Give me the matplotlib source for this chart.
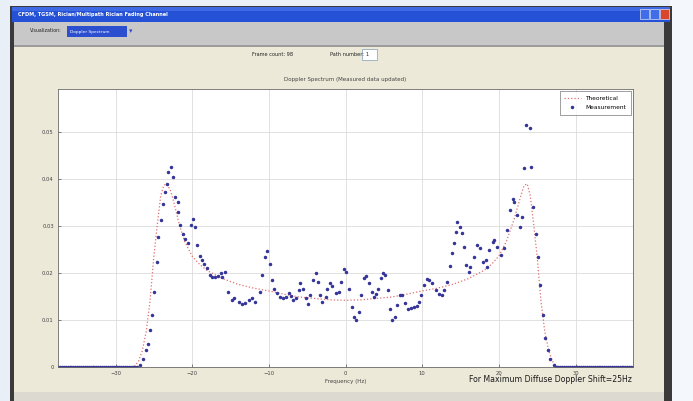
import numpy as np
import matplotlib
matplotlib.use("Agg")
import matplotlib.pyplot as plt
from matplotlib.patches import Rectangle

# Theoretical Doppler spectrum
theo_freq = [-37.5, -28.0, -27.5, -27.0, -26.5, -26.0, -25.5, -25.0, -24.5, -24.1,
             -23.7, -23.3, -22.8, -22.3, -21.7, -21.0, -20.0, -19.0, -18.0, -16.0,
             -14.0, -12.0, -10.0, -8.0, -6.0, -4.0, -2.0, 0.0, 2.0, 4.0,
             6.0, 8.0, 10.0, 12.0, 14.0, 16.0, 18.0, 19.0, 20.0, 21.0,
             22.0, 22.7, 23.3, 23.7, 24.1, 24.5, 25.0, 25.5, 26.0, 26.5,
             27.0, 27.5, 28.0, 37.5]
theo_spec = [0.0, 0.0, 0.0002, 0.0012, 0.0035, 0.0075, 0.014, 0.0235, 0.031, 0.0365,
             0.0387, 0.039, 0.0375, 0.0345, 0.0305, 0.0268, 0.0236, 0.0218, 0.0205, 0.0188,
             0.0176, 0.0168, 0.0162, 0.0155, 0.0149, 0.0146, 0.0143, 0.0142, 0.0143, 0.0146,
             0.0149, 0.0155, 0.0162, 0.0168, 0.0176, 0.0188, 0.0205, 0.0218, 0.0236, 0.0268,
             0.0315, 0.0355, 0.0387, 0.039, 0.0365, 0.031, 0.0235, 0.014, 0.0075, 0.0035,
             0.0012, 0.0002, 0.0, 0.0]

# Measured spectrum points
meas_freq = [-27.2, -26.8, -26.4, -26.0, -25.7, -25.5, -25.3, -25.0, -24.6, -24.4,
             -24.1, -23.8, -23.6, -23.3, -23.1, -22.8, -22.5, -22.2, -21.9, -21.8,
             -21.6, -21.2, -20.9, -20.6, -20.2, -19.9, -19.6, -19.4, -19.0, -18.7,
             -18.4, -18.1, -17.7, -17.4, -17.0, -16.6, -16.3, -16.1, -15.7, -15.3,
             -14.8, -14.6, -13.9, -13.5, -13.1, -12.6, -12.2, -11.8, -11.1, -10.9,
             -10.5, -10.2, -9.9, -9.6, -9.3, -8.9, -8.5, -8.1, -7.8, -7.4,
             -7.1, -6.8, -6.5, -6.1, -5.9, -5.5, -5.2, -4.9, -4.6, -4.2,
             -3.9, -3.6, -3.3, -3.05, -2.6, -2.4, -1.96, -1.7, -1.3, -0.9,
             -0.56, -0.2, 0.1, 0.4, 0.9, 1.1, 1.4, 1.7, 2.05, 2.4,
             2.7, 3.05, 3.4, 3.7, 3.95, 4.2, 4.6, 4.9, 5.2, 5.5,
             5.8, 6.1, 6.4, 6.75, 7.1, 7.4, 7.7, 8.1, 8.5, 8.9,
             9.3, 9.6, 9.9, 10.2, 10.6, 10.9, 11.3, 11.8, 12.2, 12.6,
             12.9, 13.3, 13.6, 13.9, 14.1, 14.4, 14.6, 14.9, 15.2, 15.5,
             15.7, 16.1, 16.3, 16.8, 17.2, 17.6, 17.9, 18.3, 18.5, 18.7,
             19.2, 19.4, 19.8, 20.3, 20.7, 21.0, 21.5, 21.8, 22.0, 22.4,
             22.7, 23.0, 23.3, 23.5, 24.0, 24.2, 24.4, 24.8, 25.1, 25.4,
             25.7, 26.0, 26.4, 26.7, 27.2]
meas_spec = [0.0001, 0.0004, 0.0018, 0.0036, 0.005, 0.0079, 0.011, 0.016, 0.0224, 0.0277,
             0.0313, 0.0348, 0.0373, 0.039, 0.0416, 0.0425, 0.0404, 0.0362, 0.0352, 0.033,
             0.0302, 0.0284, 0.0272, 0.0263, 0.0302, 0.0316, 0.0298, 0.026, 0.0236, 0.0228,
             0.022, 0.021, 0.0196, 0.0192, 0.0192, 0.0194, 0.02, 0.0192, 0.0203, 0.016,
             0.0143, 0.0146, 0.0139, 0.0134, 0.0137, 0.0143, 0.0146, 0.0139, 0.016, 0.0196,
             0.0235, 0.0247, 0.022, 0.0185, 0.0167, 0.0157, 0.015, 0.0146, 0.0149, 0.0158,
             0.0152, 0.0143, 0.0146, 0.0164, 0.0179, 0.0167, 0.0146, 0.0134, 0.0153, 0.0185,
             0.02, 0.0181, 0.0153, 0.0139, 0.015, 0.0167, 0.0178, 0.0172, 0.0157, 0.016,
             0.0181, 0.0208, 0.0203, 0.0167, 0.0127, 0.0106, 0.0101, 0.0118, 0.0153, 0.0189,
             0.0194, 0.0178, 0.016, 0.015, 0.0155, 0.0167, 0.0189, 0.0201, 0.0196, 0.0164,
             0.0123, 0.01, 0.0107, 0.0132, 0.0153, 0.0153, 0.0137, 0.0123, 0.0125, 0.0128,
             0.013, 0.0139, 0.0153, 0.0174, 0.0187, 0.0185, 0.0178, 0.0165, 0.0155, 0.0153,
             0.0164, 0.0181, 0.0215, 0.0242, 0.0264, 0.0288, 0.0309, 0.0298, 0.0285, 0.0256,
             0.0217, 0.0203, 0.0213, 0.0235, 0.026, 0.0253, 0.0224, 0.0228, 0.0213, 0.0249,
             0.0267, 0.027, 0.0256, 0.0238, 0.0253, 0.0291, 0.0334, 0.0357, 0.0352, 0.0323,
             0.0298, 0.032, 0.0423, 0.0515, 0.0508, 0.0425, 0.0341, 0.0284, 0.0235, 0.0174,
             0.011, 0.0061, 0.0036, 0.0018, 0.0004]

# flat zero parts at both ends
tail_left = np.arange(-37.5, -27.3, 0.25)
tail_right = np.arange(27.5, 37.6, 0.25)

xticks = [-30, -20, -10, 0, 10, 20, 30]
yticks = [0, 0.01, 0.02, 0.03, 0.04, 0.05]
ytick_labels = ['0', '0.01', '0.02', '0.03', '0.04', '0.05']

W, H = 693, 401
fig = plt.figure(figsize=(W / 100, H / 100), dpi=100)
fig.patch.set_facecolor('#e9eff6')

# window chrome drawn in pixel coordinates
bg = fig.add_axes([0, 0, 1, 1])
bg.set_xlim(0, W)
bg.set_ylim(H, 0)
bg.axis('off')

def box(x, y, w, h, color, **kw):
    bg.add_patch(Rectangle((x, y), w, h, facecolor=color, edgecolor=kw.pop('ec', 'none'),
                           linewidth=kw.pop('lw', 0), **kw))

box(670, 0, 23, H, '#f4f7fb')
box(10, 6, 662, H, '#3a3a3a')                 # dark frame
box(12, 7, 658, 15, '#2451d6')               # title bar
box(12, 7, 658, 4, '#3d6ae4')
box(14, 22, 650, 24, '#c8c8c8')              # toolbar
box(14, 45, 650, 1.5, '#9c9c9c')
box(14, 47, 650, 345, '#ece9d8')             # panel
box(14, 392, 650, 10, '#dcdad0')

# title bar buttons
box(640, 9, 9, 10, '#3f6ee8', ec='white', lw=0.4)
box(650, 9, 9, 10, '#3f6ee8', ec='white', lw=0.4)
box(660, 9, 9, 10, '#d9462e', ec='white', lw=0.4)
bg.text(18, 14.5, 'CFDM, TGSM, Rician/Multipath Rician Fading Channel', color='white',
        fontsize=3.6, fontweight='bold', va='center', ha='left')

# toolbar controls
bg.text(62, 31, 'Visualization:', fontsize=3.4, color='#222', va='center', ha='right')
box(67, 26, 60, 11, '#2b4fcf')
bg.text(70, 31.5, 'Doppler Spectrum', fontsize=3.2, color='white', va='center', ha='left')
bg.text(131, 31.5, '\u25be', fontsize=5, color='#2b4fcf', va='center', ha='center')

# frame count / path number
bg.text(252, 54, 'Frame count: 98', fontsize=3.6, color='#222', va='center', ha='left')
bg.text(330, 54, 'Path number:', fontsize=3.6, color='#222', va='center', ha='left')
box(362, 49, 15, 11, 'white', ec='#7f9db9', lw=0.5)
bg.text(365, 54.5, '1', fontsize=3.6, color='#222', va='center', ha='left')

bg.text(632, 380, 'For Maximum Diffuse Doppler Shift=25Hz', fontsize=5.6, color='#1a1a1a',
        va='center', ha='right')

# spectrum axes
ax = fig.add_axes([58 / W, (H - 367) / H, 575 / W, 278 / H])
ax.set_facecolor('white')
ax.plot(theo_freq, theo_spec, linestyle=':', color='#e07070', linewidth=0.9,
        label='Theoretical')
ax.plot(meas_freq, meas_spec, linestyle='none', marker='.', markersize=3,
        color='#36369a', label='Measurement')
ax.plot(tail_left, np.zeros(len(tail_left)), linestyle='none', marker='.',
        markersize=3, color='#36369a')
ax.plot(tail_right, np.zeros(len(tail_right)), linestyle='none', marker='.',
        markersize=3, color='#36369a')

ax.set_xlim(-37.5, 37.5)
ax.set_ylim(0, 0.0592)
ax.set_xticks(xticks)
ax.set_yticks(yticks)
ax.set_yticklabels(ytick_labels)
ax.grid(True, color='#dcdcdc', linewidth=0.6, linestyle='-')
ax.set_axisbelow(True)
ax.tick_params(direction='in', length=2, width=0.5, labelsize=3.8,
               labelcolor='#444', color='#555', pad=3)
for s in ax.spines.values():
    s.set_color('#6a6a6a')
    s.set_linewidth(0.6)
ax.set_xlabel('Frequency (Hz)', fontsize=4, color='#444', labelpad=2)
ax.set_title('Doppler Spectrum (Measured data updated)', fontsize=4, color='#444', pad=6)

leg = ax.legend(loc='upper right', fontsize=4.2, frameon=True, fancybox=False,
                edgecolor='#555', borderaxespad=0.4, handlelength=2.8,
                borderpad=0.8, labelspacing=0.7)
leg.get_frame().set_linewidth(0.5)

fig.savefig('out.png', dpi=100, facecolor=fig.get_facecolor())
